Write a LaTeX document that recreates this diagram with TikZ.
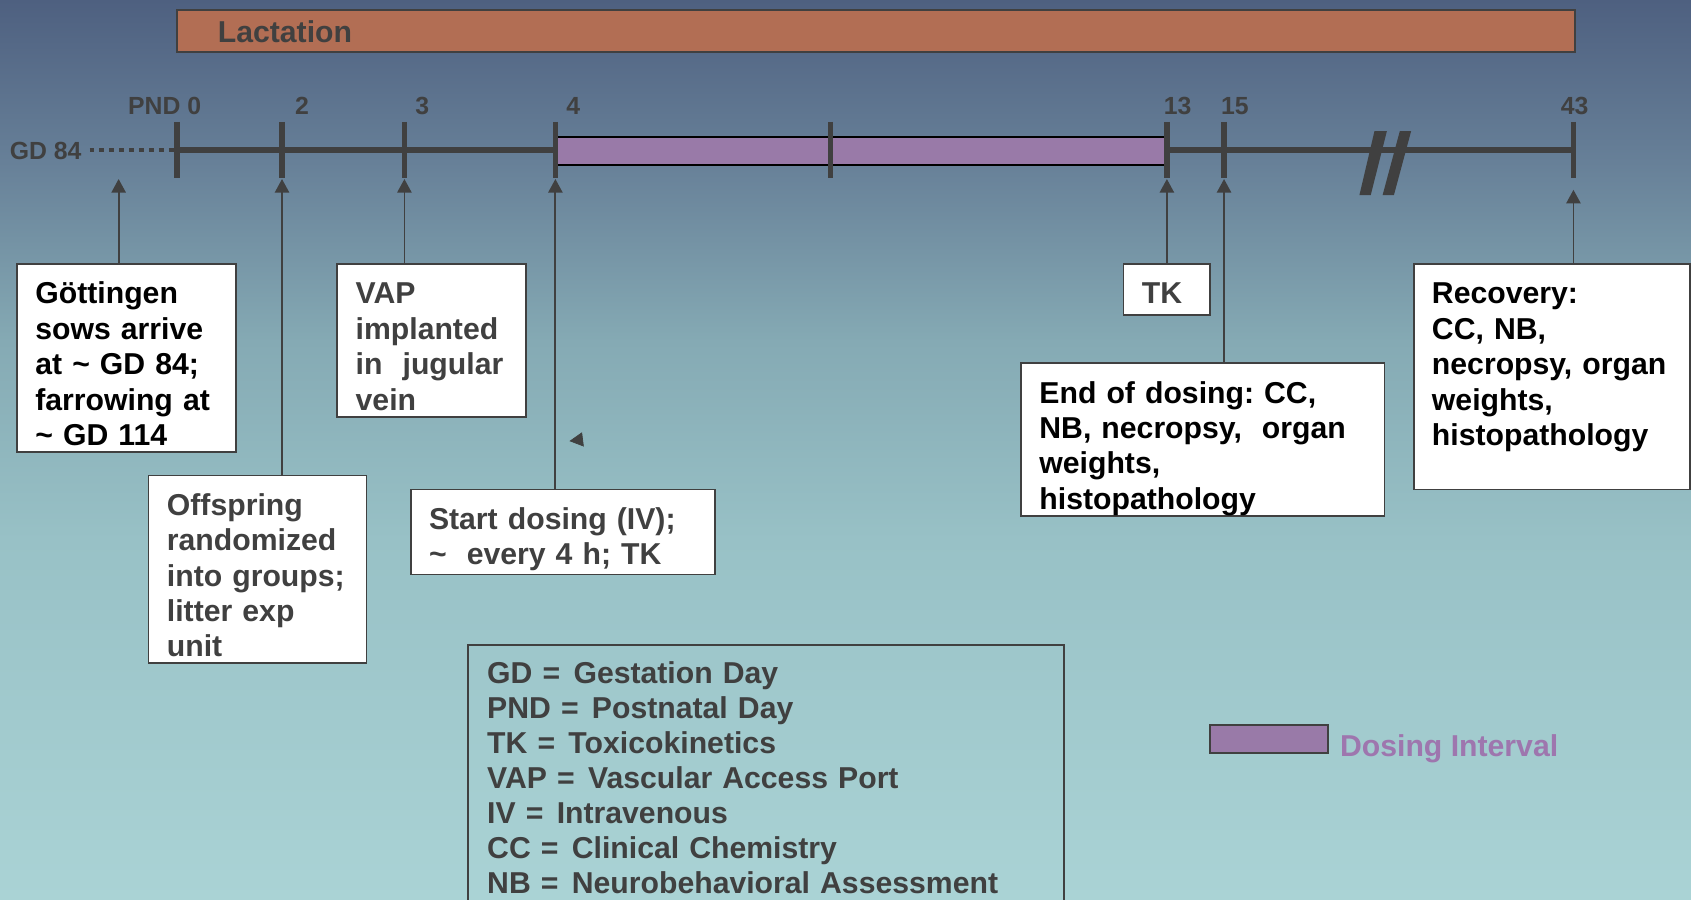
\documentclass[tikz,border=0pt]{standalone}
\usepackage{fontspec}
\setmainfont{Liberation Sans}
\usepackage{xcolor}
\usetikzlibrary{arrows.meta,positioning,calc}

\definecolor{ink}{RGB}{64,64,64}
\definecolor{lactfill}{RGB}{178,110,84}
\definecolor{dosefill}{RGB}{153,122,168}
\definecolor{dosetext}{RGB}{158,118,174}
\definecolor{bgtop}{RGB}{78,96,128}
\definecolor{bghigh}{RGB}{103,128,152}
\definecolor{bgmid}{RGB}{133,170,180}
\definecolor{bglow}{RGB}{152,193,198}
\definecolor{bgbot}{RGB}{170,211,213}
\pgfdeclareverticalshading{skyfade}{100bp}{color(0bp)=(bgbot); color(25bp)=(bgbot); color(45bp)=(bglow); color(56bp)=(bgmid); color(66bp)=(bghigh); color(75bp)=(bgtop); color(100bp)=(bgtop)}

\begin{document}
\begin{tikzpicture}[
    x=0.5pt, y=-0.5pt,
    font=\fontsize{14}{16.4}\selectfont\bfseries\frenchspacing,
    box/.style={rectangle, draw=ink, line width=0.8pt, fill=white, text=ink, anchor=north west, align=left, inner xsep=8.5pt, inner ysep=0pt, text height=18.5pt},
    daylab/.style={font=\fontsize{11.5}{13}\selectfont\bfseries, text=ink, inner sep=0pt},
    tickln/.style={draw=ink, line width=2.5pt},
    arr/.style={draw=ink, line width=0.85pt, -{Triangle[length=6.3pt, width=6.6pt]}}
  ]
    \useasboundingbox (0,0) rectangle (1568,834);
    \shade[shading=skyfade] (0,0) rectangle (1568,834);

    % lactation bar
    \node[rectangle, draw=ink, line width=1pt, fill=lactfill, text=ink, anchor=north west, align=left, inner xsep=18.75pt, inner ysep=0pt, text width=610.5pt, text height=15.3pt, text depth=4.2pt] (lact) at (163.5,8) {Lactation};

    % time line
    \coordinate (gd84) at (83,139);
    \coordinate (pnd0) at (164,139);
    \coordinate (pnd43) at (1459,139);
    \draw[ink, line width=2.2pt, dash pattern=on 2.2pt off 2.4pt] (gd84) -- ++(78,0);
    \draw[ink, line width=2.8pt] (pnd0) -- (pnd43);
    \node[rectangle, draw=black, line width=0.8pt, fill=dosefill, anchor=north west, inner sep=0pt, minimum width=282.5pt, minimum height=13pt] (dose) at (515,126) {};
    \foreach \x in {164,261.5,375,515,770,1082,1135,1459}
      \draw[tickln] (\x,113) -- (\x,165);
    \fill[ink] (1260.5,181) -- (1271,181) -- (1286,121.5) -- (1274.5,121.5) -- cycle;
    \fill[ink] (1282,181) -- (1292.5,181) -- (1308.5,121.5) -- (1298,121.5) -- cycle;

    % day labels
    \node[daylab, anchor=base east] (gdlab) at (76,148) {GD 84};
    \node[daylab, anchor=base east] (pndlab) at (187,106) {PND 0};
    \foreach \x/\d in {280/2, 391.5/3, 531.5/4, 1092/13, 1145/15, 1460/43}
      \node[daylab, anchor=base] (day\d) at (\x,106) {\d};

    % event boxes
    \node[box, text=black, text width=84.5pt, text depth=68.5pt] (arrive) at (15,244) {Göttingen\\sows arrive\\at \textasciitilde\ GD 84;\\farrowing at\\\textasciitilde\ GD 114};
    \node[box, text width=84pt, text depth=68.5pt] (random) at (137,440) {Offspring\\randomized\\into groups;\\litter exp\\unit};
    \node[box, text width=70.5pt, text depth=52.5pt] (vap) at (312,244) {VAP\\implanted\\in\ \ jugular\\vein};
    \node[box, text width=124pt, text depth=21pt] (start) at (380,453) {Start dosing (IV);\\\textasciitilde\ \ every 4 h; TK};
    \node[box, text width=23pt, text depth=5pt] (tk) at (1041,244) {TK};
    \node[box, text=black, text width=151.5pt, text depth=52.5pt] (enddose) at (946,336) {End of dosing: CC,\\NB, necropsy,\ \ organ\\weights,\\histopathology};
    \node[box, text=black, text width=111pt, text depth=86pt] (recov) at (1310,244) {Recovery:\\CC, NB,\\necropsy, organ\\weights,\\histopathology};

    % arrows up to the time line
    \coordinate (t0) at (110,166);
    \coordinate (t2) at (261.5,166);
    \coordinate (t3) at (375,166);
    \coordinate (t4) at (515,166);
    \coordinate (t13) at (1082,166);
    \coordinate (t15) at (1135,166);
    \coordinate (t43) at (1459,176);
    \draw[arr] (arrive.north -| t0) -- (t0);
    \draw[arr] (random.north -| t2) -- (t2);
    \draw[arr] (vap.north -| t3) -- (t3);
    \draw[arr] (start.north -| t4) -- (t4);
    \draw[arr] (tk.north -| t13) -- (t13);
    \draw[arr] (enddose.north -| t15) -- (t15);
    \draw[arr] (recov.north -| t43) -- (t43);
    \coordinate (s1) at (540,407.5);
    \coordinate (s2) at (528,409);
    \draw[arr, line width=0.3pt] (s1) -- (s2);

    % abbreviations
    \node[box, fill=none, font=\fontsize{14}{16.25}\selectfont\bfseries\frenchspacing, inner xsep=9pt, text width=258.5pt, text height=18pt, text depth=160pt] (abbrev) at (433,597) {GD =\hspace{1.5pt} Gestation Day\\PND =\hspace{1.5pt} Postnatal Day\\TK =\hspace{1.5pt} Toxicokinetics\\VAP =\hspace{1.5pt} Vascular Access Port\\IV =\hspace{1.5pt} Intravenous\\CC =\hspace{1.5pt} Clinical Chemistry\\NB =\hspace{1.5pt} Neurobehavioral Assessment};

    % dosing key
    \node[rectangle, draw=ink, line width=1.1pt, fill=dosefill, anchor=north west, inner sep=0pt, minimum width=54.5pt, minimum height=13pt] (dosekey) at (1121,671) {};
    \node[right=5pt of dosekey, yshift=-4.5pt, inner sep=0pt, text=dosetext] (dosekeylab) {Dosing Interval};
  \end{tikzpicture}
\end{document}
